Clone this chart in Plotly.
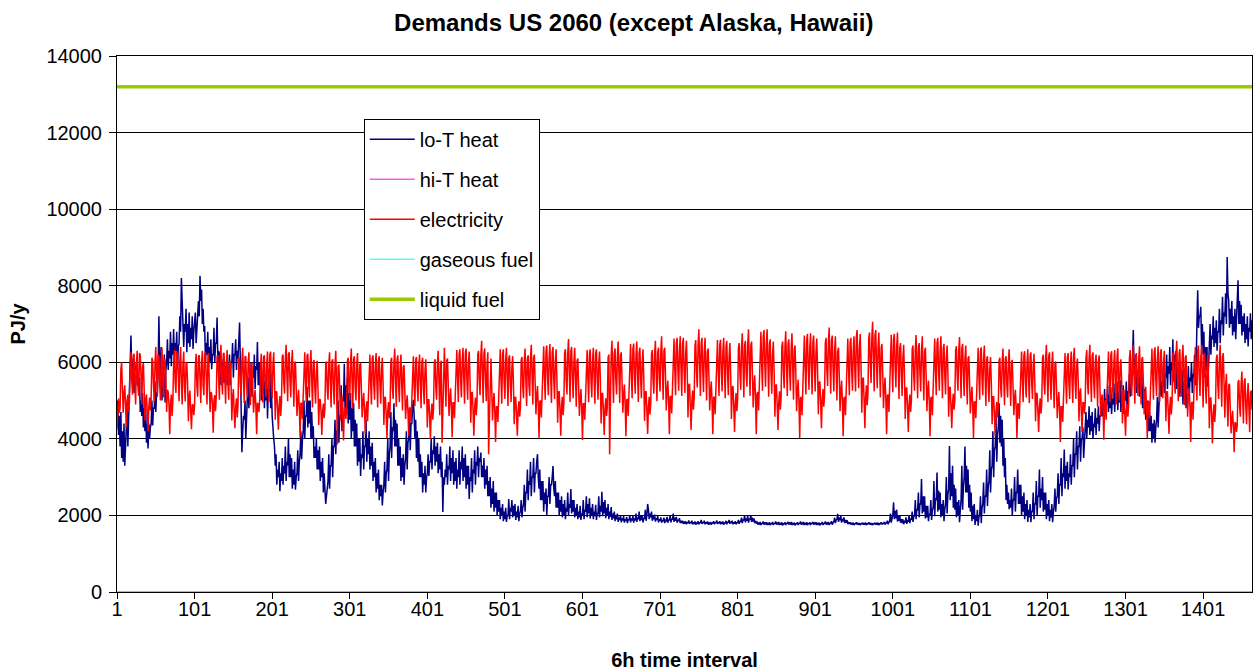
import plotly.graph_objects as go

# 6-hourly demand series for 2060 (366 days x 4 intervals), in units of 10 PJ/y.
# One line per week (7 days x 4 intervals).
lo_t_heat = [
    430,500,410,460, 380,470,350,420, 340,440,330,390, 400,480,380,450, 540,610,670,580, 560,610,520,590, 580,600,540,570,
    520,560,470,500, 460,520,430,480, 420,480,390,440, 375,440,400,430, 440,500,435,480, 480,550,470,520, 520,580,720,600,
    560,640,500,590, 540,620,495,580, 600,660,580,630, 610,680,590,650, 620,687,600,650, 630,680,582,640, 650,720,680,820,
    750,720,640,700, 680,740,626,700, 650,730,640,690, 660,720,635,680, 700,730,650,690, 700,760,720,826, 760,790,700,740,
    680,695,600,650, 620,680,590,640, 600,660,582,620, 620,690,600,650, 650,717,600,630, 580,626,540,600, 570,610,545,590,
    560,600,540,580, 570,620,540,600, 600,650,560,620, 620,660,580,630, 610,650,704,600, 520,365,420,460, 450,500,400,470,
    500,560,480,530, 530,600,510,570, 560,620,530,590, 580,653,540,600, 540,600,500,570, 520,580,480,550, 500,570,453,530,
    520,590,480,540, 460,420,400,380, 330,360,280,320, 300,340,263,310, 290,350,280,330, 310,380,290,340, 330,400,300,360,
    300,350,270,320, 280,340,267,300, 310,370,290,340, 360,420,347,400, 420,500,400,460, 460,536,430,500, 440,500,400,470,
    400,433,350,380, 350,400,320,370, 320,380,290,340, 300,350,260,310, 260,230,250,280, 290,360,270,330, 330,400,300,380,
    380,450,360,420, 420,500,390,460, 460,540,420,500, 500,596,470,540, 480,560,440,520, 450,520,400,480, 420,493,380,450,
    380,440,330,400, 340,400,303,360, 350,420,320,380, 380,450,340,400, 360,420,320,380, 330,390,290,340, 300,350,260,310,
    270,320,240,280, 250,280,226,260, 280,340,260,310, 320,400,290,360, 380,470,350,430, 420,493,380,450, 380,440,330,400,
    330,380,290,350, 300,360,280,330, 350,420,320,390, 400,470,370,440, 440,480,502,460, 400,450,350,420, 340,400,300,360,
    300,340,260,310, 280,330,260,300, 310,360,303,340, 340,400,320,370, 360,407,330,380, 340,390,310,360, 320,380,300,340,
    209,300,280,320, 300,360,280,330, 320,380,290,350, 310,370,280,340, 290,350,270,320, 300,370,280,340, 320,380,290,350,
    300,360,270,330, 280,330,243,300, 290,350,260,320, 310,370,280,340, 330,380,300,350, 340,364,300,330, 300,350,270,320,
    280,330,250,290, 250,300,220,270, 230,290,210,260, 220,260,200,240, 210,240,190,220, 200,230,185,210, 190,220,183,200,
    200,243,190,220, 210,240,195,225, 200,230,188,210, 195,225,185,205, 210,240,195,220, 230,280,210,260, 260,320,240,290,
    280,340,250,300, 300,350,260,310, 310,340,360,300, 270,320,240,290, 240,290,210,260, 230,270,200,250, 250,300,230,280,
    280,300,329,270, 250,290,220,260, 220,260,200,240, 210,250,195,230, 200,240,190,220, 210,260,200,230, 220,269,205,240,
    210,240,195,220, 200,230,190,210, 195,225,188,205, 200,240,190,215, 210,250,195,230, 205,245,192,220, 200,230,190,210,
    198,228,188,205, 205,250,195,225, 210,262,198,235, 205,240,193,220, 200,230,190,210, 196,222,188,205, 192,210,185,198,
    190,205,183,195, 188,200,182,192, 187,198,181,190, 186,196,180,190, 188,200,182,192, 187,198,181,190, 189,205,183,195,
    190,210,185,198, 188,200,182,192, 192,215,186,200, 230,215,190,205, 195,210,186,198, 190,202,184,193, 188,198,182,190,
    186,195,181,188, 185,194,180,187, 186,196,181,189, 187,200,182,191, 189,205,183,194, 186,196,181,189, 185,193,180,186,
    180,186,178,182, 179,185,177,181, 181,187,178,183, 180,186,177,182, 178,184,176,180, 179,185,177,181, 181,188,178,183,
    180,186,177,182, 179,184,176,180, 178,183,176,180, 180,185,177,181, 181,187,178,183, 179,185,177,181, 178,184,176,180,
    180,186,177,182, 182,188,178,184, 180,186,177,182, 179,185,177,181, 181,188,178,184, 184,194,180,188, 188,200,182,192,
    186,198,181,190, 190,201,183,194, 184,192,180,186, 179,184,176,180, 178,183,175,179, 179,184,176,180, 178,182,175,179,
    177,182,175,178, 178,183,175,179, 179,184,176,180, 178,183,175,179, 177,182,174,178, 178,182,175,179, 179,183,176,180,
    178,183,175,179, 177,181,174,178, 178,182,175,179, 179,184,176,180, 178,183,175,179, 177,182,175,178, 178,182,175,179,
    179,183,176,180, 178,182,175,179, 177,181,174,178, 178,183,175,179, 179,184,176,180, 178,183,175,179, 180,185,176,181,
    184,194,180,188, 190,204,183,195, 187,199,181,191, 185,195,180,188, 181,188,177,183, 178,182,176,179, 177,181,175,178,
    178,182,176,179, 177,180,175,178, 178,181,176,179, 177,181,175,178, 178,182,176,179, 177,180,175,178, 178,181,176,179,
    177,181,175,178, 178,182,176,179, 179,183,176,180, 180,186,177,182, 186,205,181,192, 200,234,190,212, 192,215,184,200,
    186,200,181,190, 180,190,177,184, 182,195,178,186, 185,200,180,190, 190,210,183,196, 200,240,190,215, 215,260,195,230,
    230,295,205,250, 210,250,192,225, 195,225,185,205, 200,240,188,215, 220,290,198,245, 240,312,210,265, 215,260,195,230,
    200,240,185,215, 230,300,205,255, 270,381,240,310, 250,330,220,280, 215,270,195,235, 200,240,182,215, 240,330,215,275,
    300,380,260,330, 260,320,220,280, 210,260,185,225, 190,230,175,200, 185,215,173,195, 200,250,180,220, 230,286,205,250,
    250,320,225,275, 290,370,260,320, 330,420,300,370, 380,460,340,410, 430,493,390,460, 380,450,330,400, 300,350,240,280,
    230,260,216,240, 220,270,200,240, 240,300,210,260, 260,320,230,280, 230,280,200,250, 210,260,190,230, 200,240,183,215,
    195,230,182,210, 210,260,190,230, 230,290,200,250, 250,320,220,270, 240,300,210,260, 215,260,190,230, 200,240,185,215,
    195,230,182,210, 225,270,210,245, 250,310,230,280, 280,350,250,310, 300,372,270,330, 290,340,268,310, 300,360,280,330,
    330,400,300,360, 360,420,320,380, 380,433,340,400, 400,430,350,390, 420,470,400,450, 430,485,410,460, 420,470,400,440,
    430,480,410,455, 440,485,420,460, 460,510,459,490, 480,530,460,505, 490,540,470,515, 480,535,465,505, 490,545,470,520,
    500,550,475,525, 495,554,470,520, 485,540,465,510, 500,550,480,525, 520,570,510,545, 540,600,684,570, 560,620,520,580,
    530,590,510,560, 520,570,480,540, 480,530,450,500, 450,500,420,470, 420,460,390,440, 400,450,390,430, 450,510,430,480,
    520,580,510,550, 540,600,520,570, 560,620,530,590, 570,640,540,600, 580,660,550,620, 560,630,530,600, 540,600,510,570,
    520,580,490,550, 510,570,480,540, 530,590,500,560, 550,600,520,570, 560,620,540,590, 700,788,690,720, 720,745,640,700,
    620,680,560,640, 580,640,537,600, 640,700,620,670, 660,720,640,690, 650,710,630,680, 680,740,650,710, 700,771,670,730,
    720,780,700,875, 780,760,690,740, 700,760,670,720, 680,740,660,710, 720,814,700,760, 700,750,670,720, 680,728,650,700,
    660,720,641,690, 680,728,660,710,
]

electricity = [
    425,470,505,468, 480,582,600,530, 468,520,540,490, 430,500,515,470, 495,592,626,552, 515,618,622,548, 490,596,630,540,
    512,624,618,560, 490,588,598,530, 448,500,516,470, 420,482,508,474, 505,612,604,540, 498,600,640,566, 510,620,616,545,
    500,606,638,550, 508,610,606,552, 470,528,522,490, 412,492,516,460, 498,598,632,546, 520,628,620,565, 498,604,640,548,
    490,592,628,538, 498,600,598,546, 446,512,526,468, 425,490,488,462, 488,590,622,536, 510,616,618,556, 494,598,630,540,
    514,620,626,560, 490,592,624,540, 470,522,518,490, 416,500,514,472, 512,616,618,558, 502,610,646,552, 516,622,624,562,
    492,598,632,542, 502,600,602,548, 448,508,530,470, 428,484,506,456, 490,610,612,540, 512,602,638,558, 494,614,616,542,
    508,594,626,552, 488,596,598,534, 468,504,528,484, 412,494,490,470, 506,590,622,550, 495,614,618,544, 508,596,628,554,
    496,620,628,548, 506,592,626,552, 450,524,522,476, 424,488,512,460, 494,616,620,546, 518,610,646,566, 498,622,626,550,
    508,596,632,554, 484,600,600,532, 460,500,528,480, 404,494,492,452, 504,592,626,550, 496,618,622,546, 508,598,632,554,
    482,600,606,532, 492,576,604,536, 436,504,502,472, 410,470,492,454, 480,596,602,528, 502,594,626,548, 482,602,608,532,
    490,596,630,544, 385,588,594,536, 448,490,514,456, 396,480,480,452, 478,604,612,530, 500,600,636,550, 480,608,616,534,
    500,592,624,546, 478,594,598,528, 456,498,520,476, 412,476,498,446, 498,590,620,544, 490,610,618,540, 502,594,624,548,
    482,606,616,536, 492,582,612,540, 436,508,508,462, 402,472,496,454, 480,604,612,532, 504,600,636,554, 484,608,618,538,
    496,588,620,544, 474,588,592,524, 452,492,514,472, 408,482,480,442, 494,584,616,540, 486,606,614,536, 498,590,620,544,
    480,602,612,534, 490,580,608,538, 430,502,502,456, 400,468,492,450, 478,600,608,530, 502,598,630,552, 462,596,604,390,
    506,604,638,558, 484,604,610,538, 460,506,532,482, 404,494,494,454, 504,600,632,556, 496,622,634,552, 508,604,638,560,
    492,624,636,554, 502,598,628,556, 442,520,522,472, 408,482,508,462, 490,620,630,550, 514,618,656,572, 494,624,636,554,
    498,594,626,360, 480,602,610,534, 448,494,520,468, 392,484,484,444, 500,600,634,554, 492,622,634,550, 504,604,638,558,
    486,610,618,540, 496,586,616,544, 438,508,508,462, 408,474,498,458, 482,606,614,536, 506,602,636,556, 486,610,618,540,
    512,612,646,566, 490,612,620,546, 464,512,538,488, 402,498,500,456, 510,608,642,562, 502,630,644,560, 514,612,648,566,
    494,626,640,556, 504,602,634,560, 442,522,524,474, 408,484,510,462, 492,624,634,552, 516,622,661,576, 496,628,640,558,
    506,604,638,558, 484,604,610,538, 460,504,530,480, 397,492,492,450, 504,600,632,556, 496,622,634,552, 508,604,638,560,
    492,622,634,552, 502,598,628,556, 440,518,520,470, 410,480,506,460, 482,612,620,360, 514,618,656,572, 494,624,636,554,
    516,618,654,572, 494,618,626,550, 468,516,542,492, 407,502,504,460, 514,614,648,568, 506,636,649,566, 518,618,654,572,
    496,626,638,556, 506,602,634,560, 447,522,524,474, 413,484,510,464, 494,622,632,552, 518,620,656,574, 498,626,638,556,
    524,630,668,584, 502,630,638,564, 474,526,552,500, 412,510,512,466, 522,626,662,580, 514,650,664,578, 526,632,668,584,
    512,648,664,578, 520,622,656,580, 456,540,544,488, 423,498,526,476, 508,644,658,574, 534,646,686,598, 512,650,664,578,
    522,628,664,582, 500,628,636,562, 474,524,550,498, 412,508,510,464, 520,624,658,578, 512,646,659,576, 524,628,664,582,
    506,642,656,572, 514,616,650,574, 452,534,538,484, 418,492,520,472, 502,638,650,568, 528,638,676,590, 508,644,656,572,
    536,646,686,600, 512,644,654,578, 482,538,566,510, 412,518,522,474, 532,642,680,596, 526,668,684,596, 536,648,686,600,
    510,646,660,576, 518,620,654,578, 458,540,542,488, 423,496,524,476, 506,642,654,572, 532,642,681,594, 512,648,660,576,
    526,636,676,590, 502,634,644,568, 472,526,554,498, 402,506,510,462, 522,632,670,586, 516,658,674,584, 528,638,676,590,
    516,654,670,584, 524,628,662,586, 464,546,550,496, 428,502,530,484, 512,650,664,580, 538,652,691,604, 518,656,670,584,
    524,630,668,584, 500,628,638,564, 472,526,552,498, 407,506,510,462, 520,626,662,580, 514,650,664,578, 526,632,668,584,
    524,666,684,596, 532,640,674,596, 468,556,560,502, 428,510,540,488, 520,662,678,592, 546,666,706,616, 524,670,684,596,
    532,640,678,594, 508,638,648,572, 480,534,560,506, 412,512,516,470, 528,636,672,590, 522,662,674,588, 534,642,678,594,
    504,638,650,568, 512,612,646,572, 452,532,534,482, 418,490,516,470, 500,634,644,564, 526,634,671,586, 506,640,650,568,
    524,630,668,584, 500,628,638,564, 472,526,552,498, 407,506,510,462, 520,626,662,580, 514,650,664,578, 526,632,668,584,
    506,636,648,568, 516,612,644,572, 458,534,534,484, 428,494,518,476, 502,632,642,564, 526,632,666,586, 506,638,648,568,
    512,610,644,566, 490,610,616,546, 466,512,536,486, 402,496,496,454, 510,606,638,562, 502,628,639,558, 514,610,644,566,
    486,608,616,540, 496,584,614,544, 438,510,510,462, 408,472,496,456, 484,604,612,536, 508,602,636,556, 488,608,616,540,
    508,600,634,556, 486,600,606,536, 462,504,528,482, 402,492,490,452, 506,596,628,552, 496,618,629,548, 508,600,634,556,
    494,616,626,548, 504,592,622,552, 446,518,520,472, 418,482,506,466, 492,612,620,544, 516,610,646,564, 496,616,626,548,
    502,596,628,552, 480,596,602,532, 454,498,522,474, 392,484,484,444, 500,592,624,548, 492,614,624,544, 504,596,628,552,
    494,616,638,548, 504,592,610,552, 446,518,532,472, 418,494,494,466, 492,612,632,544, 516,610,646,564, 496,616,626,548,
    506,600,620,556, 484,600,618,536, 458,502,516,480, 398,490,502,450, 504,596,628,552, 496,618,629,548, 506,600,632,556,
    490,614,636,546, 500,590,608,550, 440,514,528,466, 408,476,490,458, 488,610,632,542, 512,608,646,562, 492,614,624,546,
    512,608,642,564, 490,608,614,544, 464,510,536,486, 402,496,496,454, 510,604,636,560, 502,626,639,556, 512,608,642,564,
    496,624,634,554, 506,600,630,558, 446,522,524,474, 413,484,510,464, 494,620,628,550, 518,618,656,572, 498,624,634,554,
    510,612,646,566, 488,612,618,546, 458,508,534,484, 392,494,496,450, 508,608,640,562, 500,630,644,560, 512,612,646,566,
    482,614,624,542, 492,590,620,546, 428,506,508,458, 388,464,490,444, 480,610,620,540, 504,608,646,562, 484,614,624,542,
    455,540,570,498, 432,540,544,478, 414,451,473,432, 365,443,441,418, 436,548,554,484, 458,544,576,502, 440,550,558,486,
    438,514,546,481, 417,521,526,476,
]

# Flat annual demands (PJ/y)
liquid_fuel_level = 13200
hi_t_heat_level = 0
gaseous_fuel_level = 0

tick_labels = ["1", "101", "201", "301", "401", "501", "601", "701",
               "801", "901", "1001", "1101", "1201", "1301", "1401"]

assert len(lo_t_heat) == len(electricity) == 1464

n = len(lo_t_heat)
intervals = list(range(1, n + 1))
scale = 10  # list values are in tens of PJ/y

series = [
    ("lo-T heat", [v * scale for v in lo_t_heat], "#000080", 1.5),
    ("hi-T heat", [hi_t_heat_level] * n, "#FF00FF", 1.0),
    ("electricity", [v * scale for v in electricity], "#FF0000", 1.5),
    ("gaseous fuel", [gaseous_fuel_level] * n, "#00FFFF", 1.0),
    ("liquid fuel", [liquid_fuel_level] * n, "#99CC00", 3.5),
]

fig = go.Figure()
for name, ys, color, width in series:
    fig.add_trace(go.Scatter(
        x=intervals, y=ys, mode="lines", name=name, legendgroup=name,
        line=dict(color=color, width=width),
    ))

font_family = "Liberation Sans, Arial, sans-serif"

fig.update_layout(
    width=1255, height=671,
    margin=dict(l=117, r=2, t=56, b=77),
    paper_bgcolor="white", plot_bgcolor="white",
    font=dict(family=font_family, size=20, color="black"),
    title=dict(text="<b>Demands US 2060 (except Alaska, Hawaii)</b>",
               x=0.505, xanchor="center", y=0.967, yanchor="middle",
               font=dict(size=24, family=font_family, color="black")),
    showlegend=True,
    legend=dict(x=0.2174, y=0.883, xanchor="left", yanchor="top",
                bgcolor="white", bordercolor="black", borderwidth=1,
                font=dict(size=20), tracegroupgap=11, itemwidth=45),
)

fig.update_xaxes(
    range=[1, n], tickmode="array", tickvals=[int(t) for t in tick_labels], ticktext=tick_labels,
    ticks="outside", ticklen=6, tickcolor="black", showline=True, linecolor="black", linewidth=1,
    mirror=True, showgrid=False, zeroline=False, ticklabelstandoff=-7,
    title=dict(text="<b>6h time interval</b>", standoff=35, font=dict(size=20)),
)
fig.update_yaxes(
    range=[0, 14000], dtick=2000, tickformat="d",
    ticks="outside", ticklen=7, tickcolor="black", showline=True, linecolor="black", linewidth=1,
    mirror=True, showgrid=True, gridcolor="black", gridwidth=1, zeroline=False, ticklabelstandoff=3,
    title=dict(text="<b>PJ/y</b>", standoff=15, font=dict(size=20)),
)

fig.write_html("out.html")
